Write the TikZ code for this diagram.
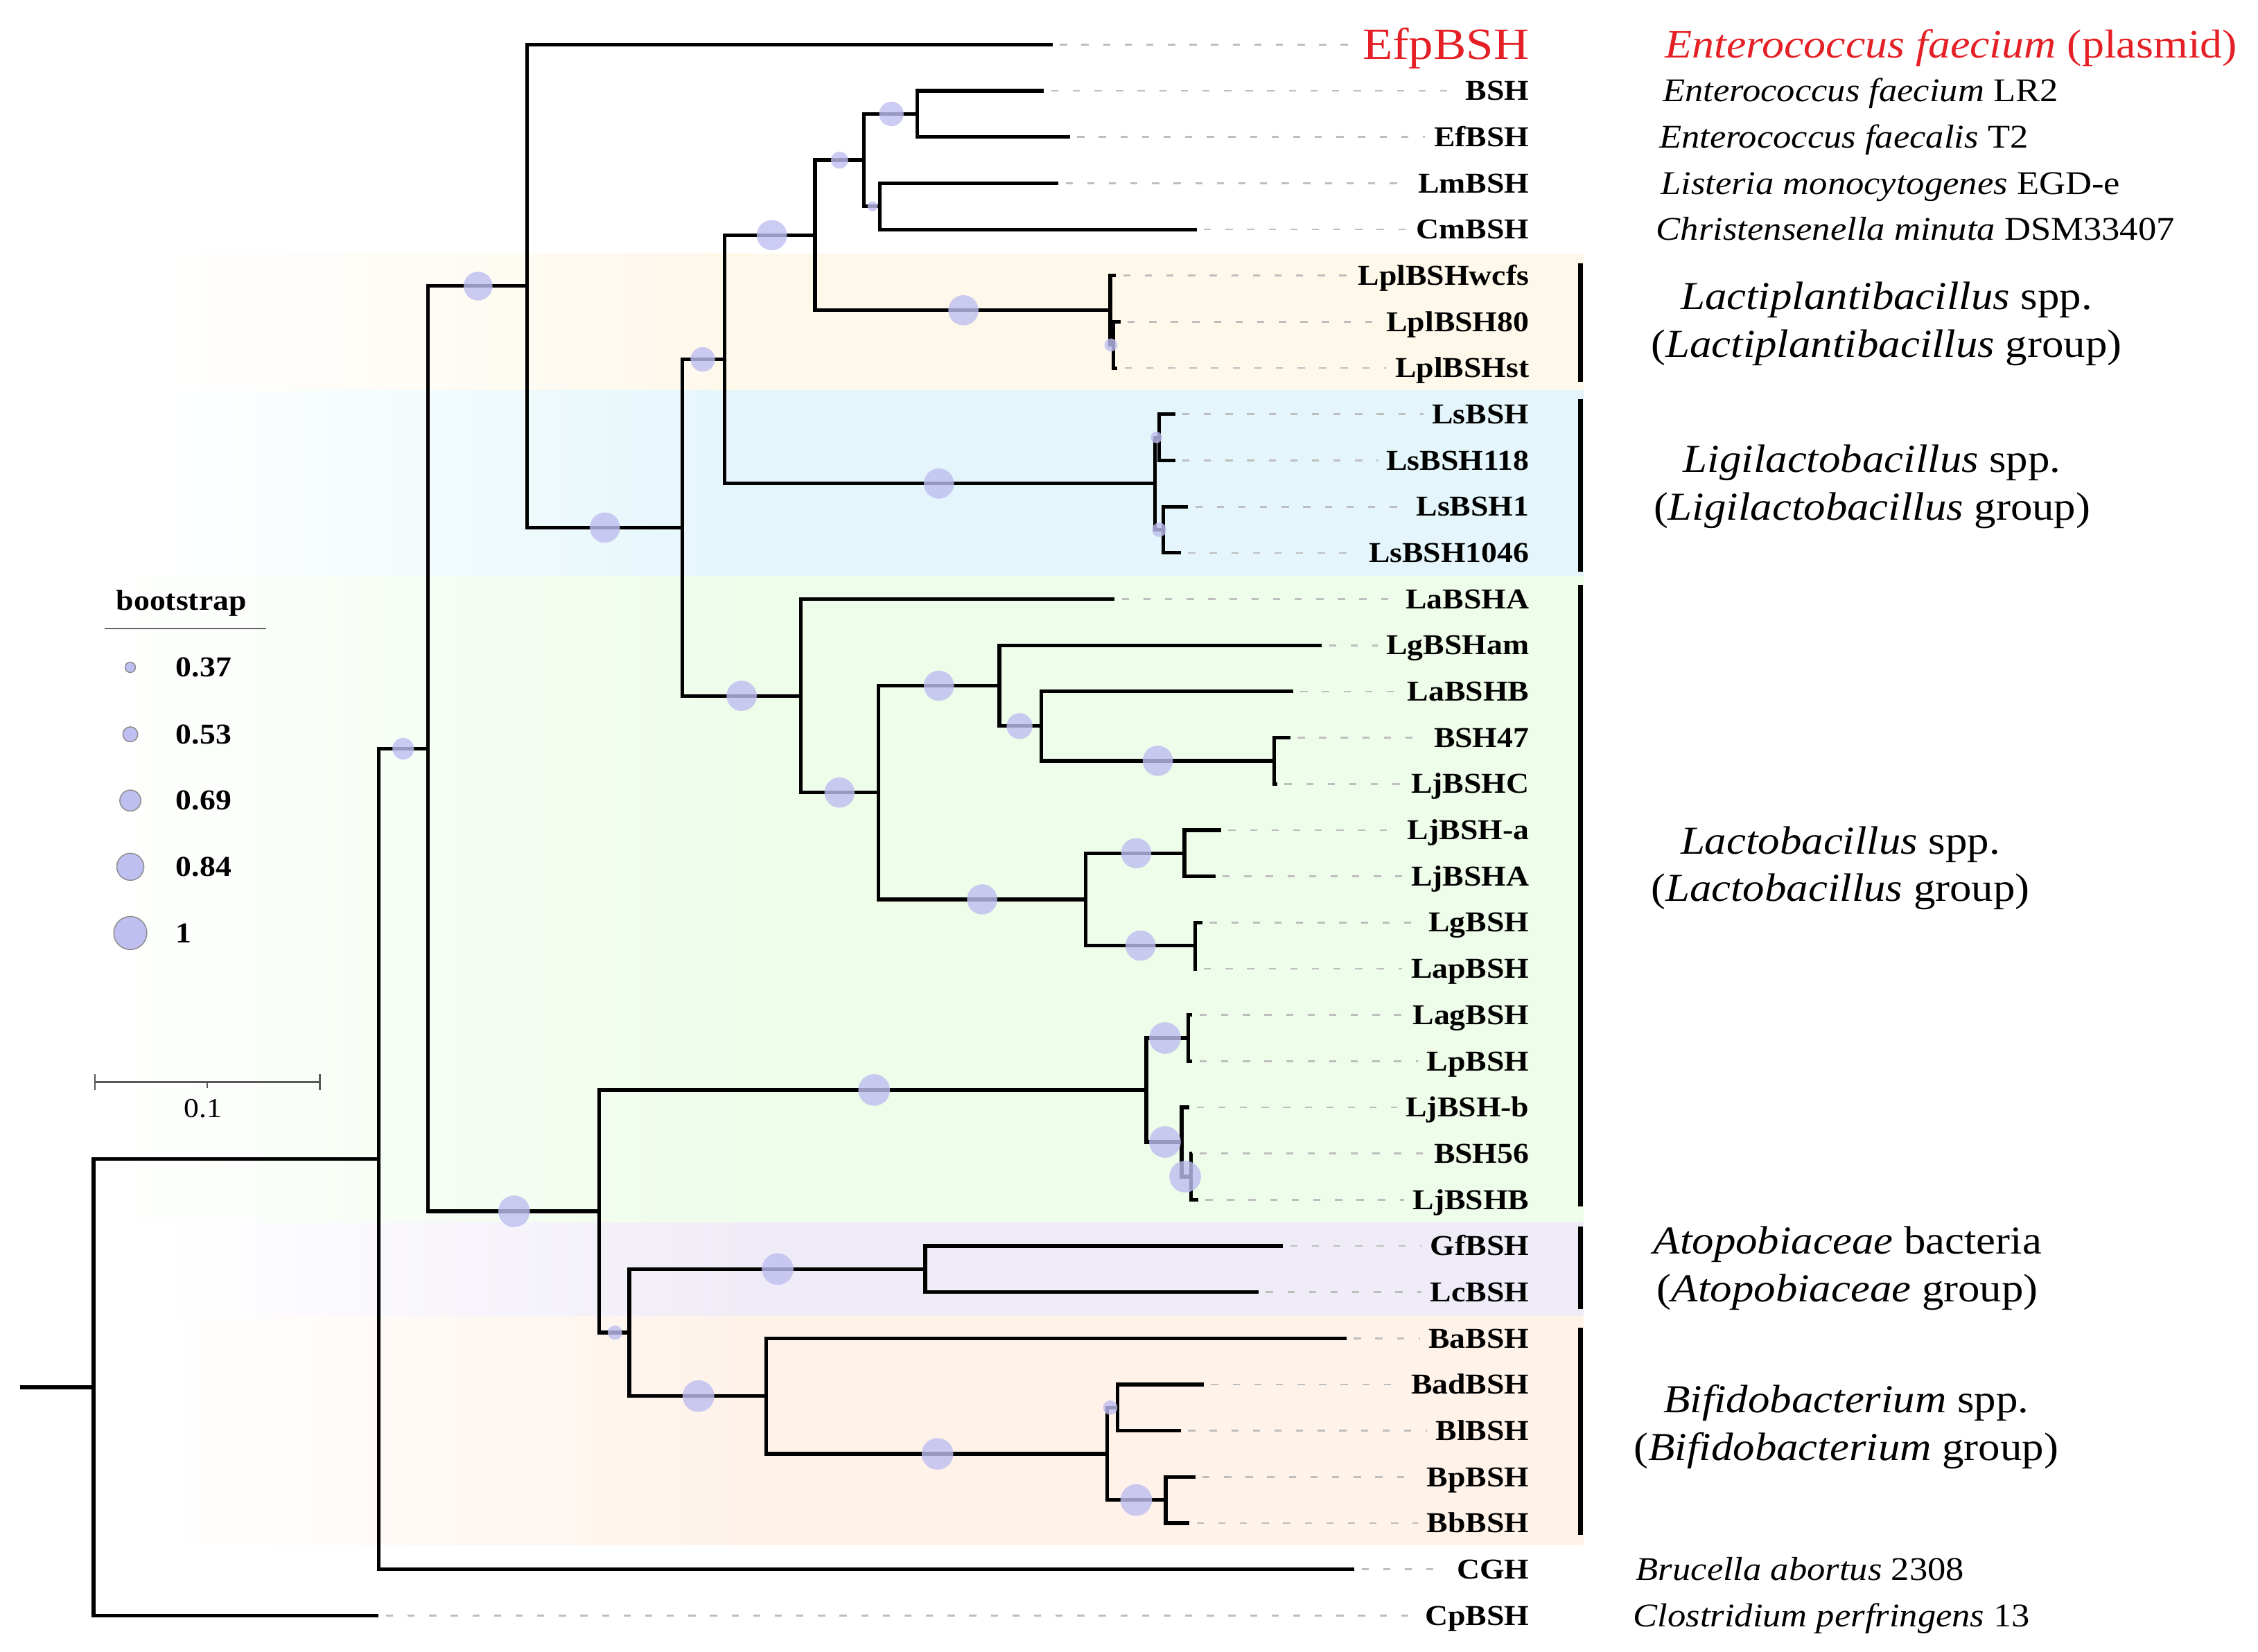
\documentclass[tikz,border=0pt]{standalone}
\usepackage{fontspec}
\setmainfont[FakeStretch=1.1]{Liberation Serif}
\usetikzlibrary{calc}
\definecolor{lpcol}{RGB}{254,248,234}
\definecolor{lscol}{RGB}{228,246,251}
\definecolor{lbcol}{RGB}{238,252,234}
\definecolor{atcol}{RGB}{240,236,247}
\definecolor{bicol}{RGB}{254,242,233}
\definecolor{bscol}{RGB}{190,190,240}
\definecolor{efred}{RGB}{228,32,38}
\definecolor{dashgray}{RGB}{190,190,190}
\tikzset{
 br/.style={line width=2.5pt, line join=miter, black},
 dsh/.style={draw=dashgray, line width=1.3pt, dash pattern=on 5pt off 10pt, shorten >=6pt, shorten <=5pt},
 leaf/.style={anchor=east, inner sep=0pt, text height=13.2pt, text depth=0pt, font=\bfseries\fontsize{20}{24}\selectfont},
 sp/.style={anchor=west, inner sep=0pt, text height=15.2pt, text depth=0pt, font=\fontsize{23}{27}\selectfont},
 grp/.style={align=center, inner sep=0pt, font=\fontsize{27.5}{33}\selectfont},
 grpbar/.style={line width=3.5pt},
 bs/.style={fill=bscol, fill opacity=0.8},
 lgc/.style={fill=bscol, draw=black!45, line width=0.7pt},
 lgt/.style={anchor=west, inner sep=0pt, text height=13.2pt, text depth=0pt, font=\bfseries\fontsize{20}{24}\selectfont},
}
\newcommand\leafrow[4]{%
  \coordinate (l#1) at (#2,#3);
  \node[leaf] (n#1) at (1062,#3) {#4};
  \draw[dsh] (l#1) -- (n#1.west);}
\newcommand\bsdot[3]{\fill[bs] (#1,#2) circle[radius=#3];}
\begin{document}
\begin{tikzpicture}[x=1pt,y=-1pt]
\useasboundingbox (0,0) rectangle (1568,1147);
% ---------- background bands ----------
\fill[lpcol] (520,176) rectangle (1099.5,271);
\shade[left color=white, right color=lpcol] (110,176) rectangle (521,271);
\fill[lscol] (520,271) rectangle (1099.5,400);
\shade[left color=white, right color=lscol] (110,271) rectangle (521,400);
\fill[lbcol] (520,400) rectangle (1099.5,849);
\shade[left color=white, right color=lbcol] (60,400) rectangle (521,849);
\fill[atcol] (520,849) rectangle (1099.5,914);
\shade[left color=white, right color=atcol] (110,849) rectangle (521,914);
\fill[bicol] (520,914) rectangle (1099.5,1073);
\shade[left color=white, right color=bicol] (110,914) rectangle (521,1073);
% ---------- leaves ----------
\coordinate (l0) at (731,31);
\node[anchor=east, inner sep=0pt, text height=20.5pt, text depth=0pt, text=efred, font=\fontsize{31}{36}\selectfont] (n0) at (1062,31) {EfpBSH};
\draw[dsh] (l0) -- (n0.west);
\leafrow{1}{725}{63.09}{BSH}
\leafrow{2}{743}{95.18}{EfBSH}
\leafrow{3}{735}{127.27}{LmBSH}
\leafrow{4}{831}{159.36}{CmBSH}
\leafrow{5}{775}{191.45}{LplBSHwcfs}
\leafrow{6}{778}{223.54}{LplBSH80}
\leafrow{7}{776}{255.63}{LplBSHst}
\leafrow{8}{816}{287.72}{LsBSH}
\leafrow{9}{816}{319.81}{LsBSH118}
\leafrow{10}{825}{351.9}{LsBSH1}
\leafrow{11}{820}{383.99}{LsBSH1046}
\leafrow{12}{774}{416.08}{LaBSHA}
\leafrow{13}{918}{448.17}{LgBSHam}
\leafrow{14}{898}{480.26}{LaBSHB}
\leafrow{15}{896}{512.35}{BSH47}
\leafrow{16}{887}{544.44}{LjBSHC}
\leafrow{17}{848}{576.53}{LjBSH-a}
\leafrow{18}{844}{608.62}{LjBSHA}
\leafrow{19}{835}{640.71}{LgBSH}
\leafrow{20}{831}{672.8}{LapBSH}
\leafrow{21}{828}{704.89}{LagBSH}
\leafrow{22}{828}{736.98}{LpBSH}
\leafrow{23}{826}{769.07}{LjBSH-b}
\leafrow{24}{828}{801.16}{BSH56}
\leafrow{25}{832}{833.25}{LjBSHB}
\leafrow{26}{891}{865.34}{GfBSH}
\leafrow{27}{874}{897.43}{LcBSH}
\leafrow{28}{935}{929.52}{BaBSH}
\leafrow{29}{836}{961.61}{BadBSH}
\leafrow{30}{820}{993.7}{BlBSH}
\leafrow{31}{830}{1025.79}{BpBSH}
\leafrow{32}{826}{1057.88}{BbBSH}
\leafrow{33}{940.5}{1089.97}{CGH}
\leafrow{34}{263}{1122.06}{CpBSH}
% ---------- internal nodes ----------
\coordinate (stub) at (14,963.52);
\coordinate (root) at (65,963.52);
\coordinate (A) at (263,804.98);
\coordinate (B) at (297,519.995);
\coordinate (C) at (366,198.72);
\coordinate (E) at (474,366.44);
\coordinate (F) at (503,249.61);
\coordinate (H) at (566,163.37);
\coordinate (I) at (600,111.225);
\coordinate (J) at (637,79.135);
\coordinate (K) at (611,143.315);
\coordinate (Lpl) at (771,215.5175);
\coordinate (Lpl2) at (773,239.585);
\coordinate (Ls) at (802,335.855);
\coordinate (Ls1) at (805,303.765);
\coordinate (Ls2) at (808,367.945);
\coordinate (G) at (556,483.27);
\coordinate (M) at (610,550.4575);
\coordinate (N) at (694,476.25);
\coordinate (P) at (723,504.3275);
\coordinate (Q) at (885,528.395);
\coordinate (O) at (754,624.665);
\coordinate (R) at (822.5,592.575);
\coordinate (S) at (830,656.755);
\coordinate (D) at (416,841.27);
\coordinate (T) at (796,757.036);
\coordinate (V) at (825,720.935);
\coordinate (W) at (820.6,793.1375);
\coordinate (X) at (827,817.205);
\coordinate (U) at (437,925.51);
\coordinate (Y) at (642.5,881.385);
\coordinate (Z) at (532,969.63);
\coordinate (AA) at (769,1009.745);
\coordinate (AB) at (776,977.655);
\coordinate (AC) at (809.5,1041.835);
% ---------- branches ----------
\draw[br] (stub) -- (root);
\draw[br] (root) |- (A);  \draw[br] (root) |- (l34);
\draw[br] (A) |- (B);     \draw[br] (A) |- (l33);
\draw[br] (B) |- (C);     \draw[br] (B) |- (D);
\draw[br] (C) |- (l0);    \draw[br] (C) |- (E);
\draw[br] (E) |- (F);     \draw[br] (E) |- (G);
\draw[br] (F) |- (H);     \draw[br] (F) |- (Ls);
\draw[br] (H) |- (I);     \draw[br] (H) |- (Lpl);
\draw[br] (I) |- (J);     \draw[br] (I) |- (K);
\draw[br] (J) |- (l1);    \draw[br] (J) |- (l2);
\draw[br] (K) |- (l3);    \draw[br] (K) |- (l4);
\draw[br] (Lpl) |- (l5);  \draw[br] (Lpl) |- (Lpl2);
\draw[br] (Lpl2) |- (l6); \draw[br] (Lpl2) |- (l7);
\draw[br] (Ls) |- (Ls1);  \draw[br] (Ls) |- (Ls2);
\draw[br] (Ls1) |- (l8);  \draw[br] (Ls1) |- (l9);
\draw[br] (Ls2) |- (l10); \draw[br] (Ls2) |- (l11);
\draw[br] (G) |- (l12);   \draw[br] (G) |- (M);
\draw[br] (M) |- (N);     \draw[br] (M) |- (O);
\draw[br] (N) |- (l13);   \draw[br] (N) |- (P);
\draw[br] (P) |- (l14);   \draw[br] (P) |- (Q);
\draw[br] (Q) |- (l15);   \draw[br] (Q) |- (l16);
\draw[br] (O) |- (R);     \draw[br] (O) |- (S);
\draw[br] (R) |- (l17);   \draw[br] (R) |- (l18);
\draw[br] (S) |- (l19);   \draw[br] (S) |- (l20);
\draw[br] (D) |- (T);     \draw[br] (D) |- (U);
\draw[br] (T) |- (V);     \draw[br] (T) |- (W);
\draw[br] (V) |- (l21);   \draw[br] (V) |- (l22);
\draw[br] (W) |- (l23);   \draw[br] (W) |- (X);
\draw[br] (X) |- (l24);   \draw[br] (X) |- (l25);
\draw[br] (U) |- (Y);     \draw[br] (U) |- (Z);
\draw[br] (Y) |- (l26);   \draw[br] (Y) |- (l27);
\draw[br] (Z) |- (l28);   \draw[br] (Z) |- (AA);
\draw[br] (AA) |- (AB);   \draw[br] (AA) |- (AC);
\draw[br] (AB) |- (l29);  \draw[br] (AB) |- (l30);
\draw[br] (AC) |- (l31);  \draw[br] (AC) |- (l32);
% ---------- bootstrap circles ----------
\bsdot{332}{198.72}{10}
\bsdot{488}{249.61}{8.5}
\bsdot{420}{366.44}{10.5}
\bsdot{536}{163.37}{10.5}
\bsdot{583}{111.225}{6}
\bsdot{619}{79.135}{8.5}
\bsdot{606}{143.315}{3.5}
\bsdot{669}{215.5175}{10.5}
\bsdot{771.5}{239.585}{4.5}
\bsdot{652}{335.855}{10.5}
\bsdot{803}{303.765}{4}
\bsdot{805}{367.945}{5}
\bsdot{280}{519.995}{7.5}
\bsdot{515}{483.27}{10.5}
\bsdot{583}{550.4575}{10.5}
\bsdot{652}{476.25}{10.5}
\bsdot{708}{504.3275}{9}
\bsdot{804}{528.395}{10.5}
\bsdot{682}{624.665}{10.5}
\bsdot{789}{592.575}{10.5}
\bsdot{792}{656.755}{10.5}
\bsdot{809}{720.935}{11}
\bsdot{607}{757.036}{11}
\bsdot{809}{793.1375}{11}
\bsdot{823}{817.205}{11}
\bsdot{357}{841.27}{11}
\bsdot{540}{881.385}{11}
\bsdot{427}{925.51}{5}
\bsdot{485}{969.63}{11}
\bsdot{651}{1009.745}{11}
\bsdot{771}{977.655}{5}
\bsdot{789}{1041.835}{11}
% ---------- group bars ----------
\draw[grpbar] (1097.5,183) -- (1097.5,265);
\draw[grpbar] (1097.5,277) -- (1097.5,397);
\draw[grpbar] (1097.5,406) -- (1097.5,838);
\draw[grpbar] (1097.5,852) -- (1097.5,909);
\draw[grpbar] (1097.5,922) -- (1097.5,1066);
% ---------- species labels ----------
\node[anchor=west, inner sep=0pt, text height=18.5pt, text depth=0pt, text=efred, font=\fontsize{28}{32}\selectfont] (s0) at (1156,31) {\textit{Enterococcus faecium} (plasmid)};
\node[sp] (s1) at (1154.5,63.09) {\textit{Enterococcus faecium} LR2};
\node[sp] (s2) at (1152,95.18) {\textit{Enterococcus faecalis} T2};
\node[sp] (s3) at (1153,127.27) {\textit{Listeria monocytogenes} EGD-e};
\node[sp] (s4) at (1150,159.36) {\textit{Christensenella minuta} DSM33407};
\node[sp] (s33) at (1136,1089.97) {\textit{Brucella abortus} 2308};
\node[sp] (s34) at (1134,1122.06) {\textit{Clostridium perfringens} 13};
% ---------- group labels ----------
\node[grp] (g1) at (1310,225) {\textit{Lactiplantibacillus} spp.\\(\textit{Lactiplantibacillus} group)};
\node[grp] (g2) at (1300,338) {\textit{Ligilactobacillus} spp.\\(\textit{Ligilactobacillus} group)};
\node[grp] (g3) at (1278,603) {\textit{Lactobacillus} spp.\\(\textit{Lactobacillus} group)};
\node[grp] (g4) at (1283,881) {\textit{Atopobiaceae} bacteria\\(\textit{Atopobiaceae} group)};
\node[grp] (g5) at (1282,991) {\textit{Bifidobacterium} spp.\\(\textit{Bifidobacterium} group)};
% ---------- legend ----------
\node[anchor=base, inner sep=0pt, font=\bfseries\fontsize{20}{24}\selectfont] (lgtitle) at (126,424) {bootstrap};
\draw[black!60, line width=1pt] (72.6,436.6) -- (185,436.6);
\filldraw[lgc] (90.5,463.5) circle[radius=3.6];
\node[lgt] (lg1) at (122,463.5) {0.37};
\filldraw[lgc] (90.5,510) circle[radius=5.2];
\node[lgt] (lg2) at (122,510) {0.53};
\filldraw[lgc] (90.5,556) circle[radius=7.3];
\node[lgt] (lg3) at (122,556) {0.69};
\filldraw[lgc] (90.5,602) circle[radius=9.4];
\node[lgt] (lg4) at (122,602) {0.84};
\filldraw[lgc] (90.5,648) circle[radius=11.5];
\node[lgt] (lg5) at (122,648) {1};
% ---------- scale bar ----------
\draw[black!65, line width=1.2pt] (66,751.6) -- (222,751.6);
\draw[black!65, line width=1.2pt] (66,746) -- (66,757.2);
\draw[black!65, line width=1.2pt] (222,746) -- (222,757.2);
\draw[black!65, line width=1.2pt] (144,751.6) -- (144,755.8);
\node[anchor=base, inner sep=0pt, font=\fontsize{19}{23}\selectfont] (sc) at (141,776) {0.1};
\end{tikzpicture}
\end{document}
